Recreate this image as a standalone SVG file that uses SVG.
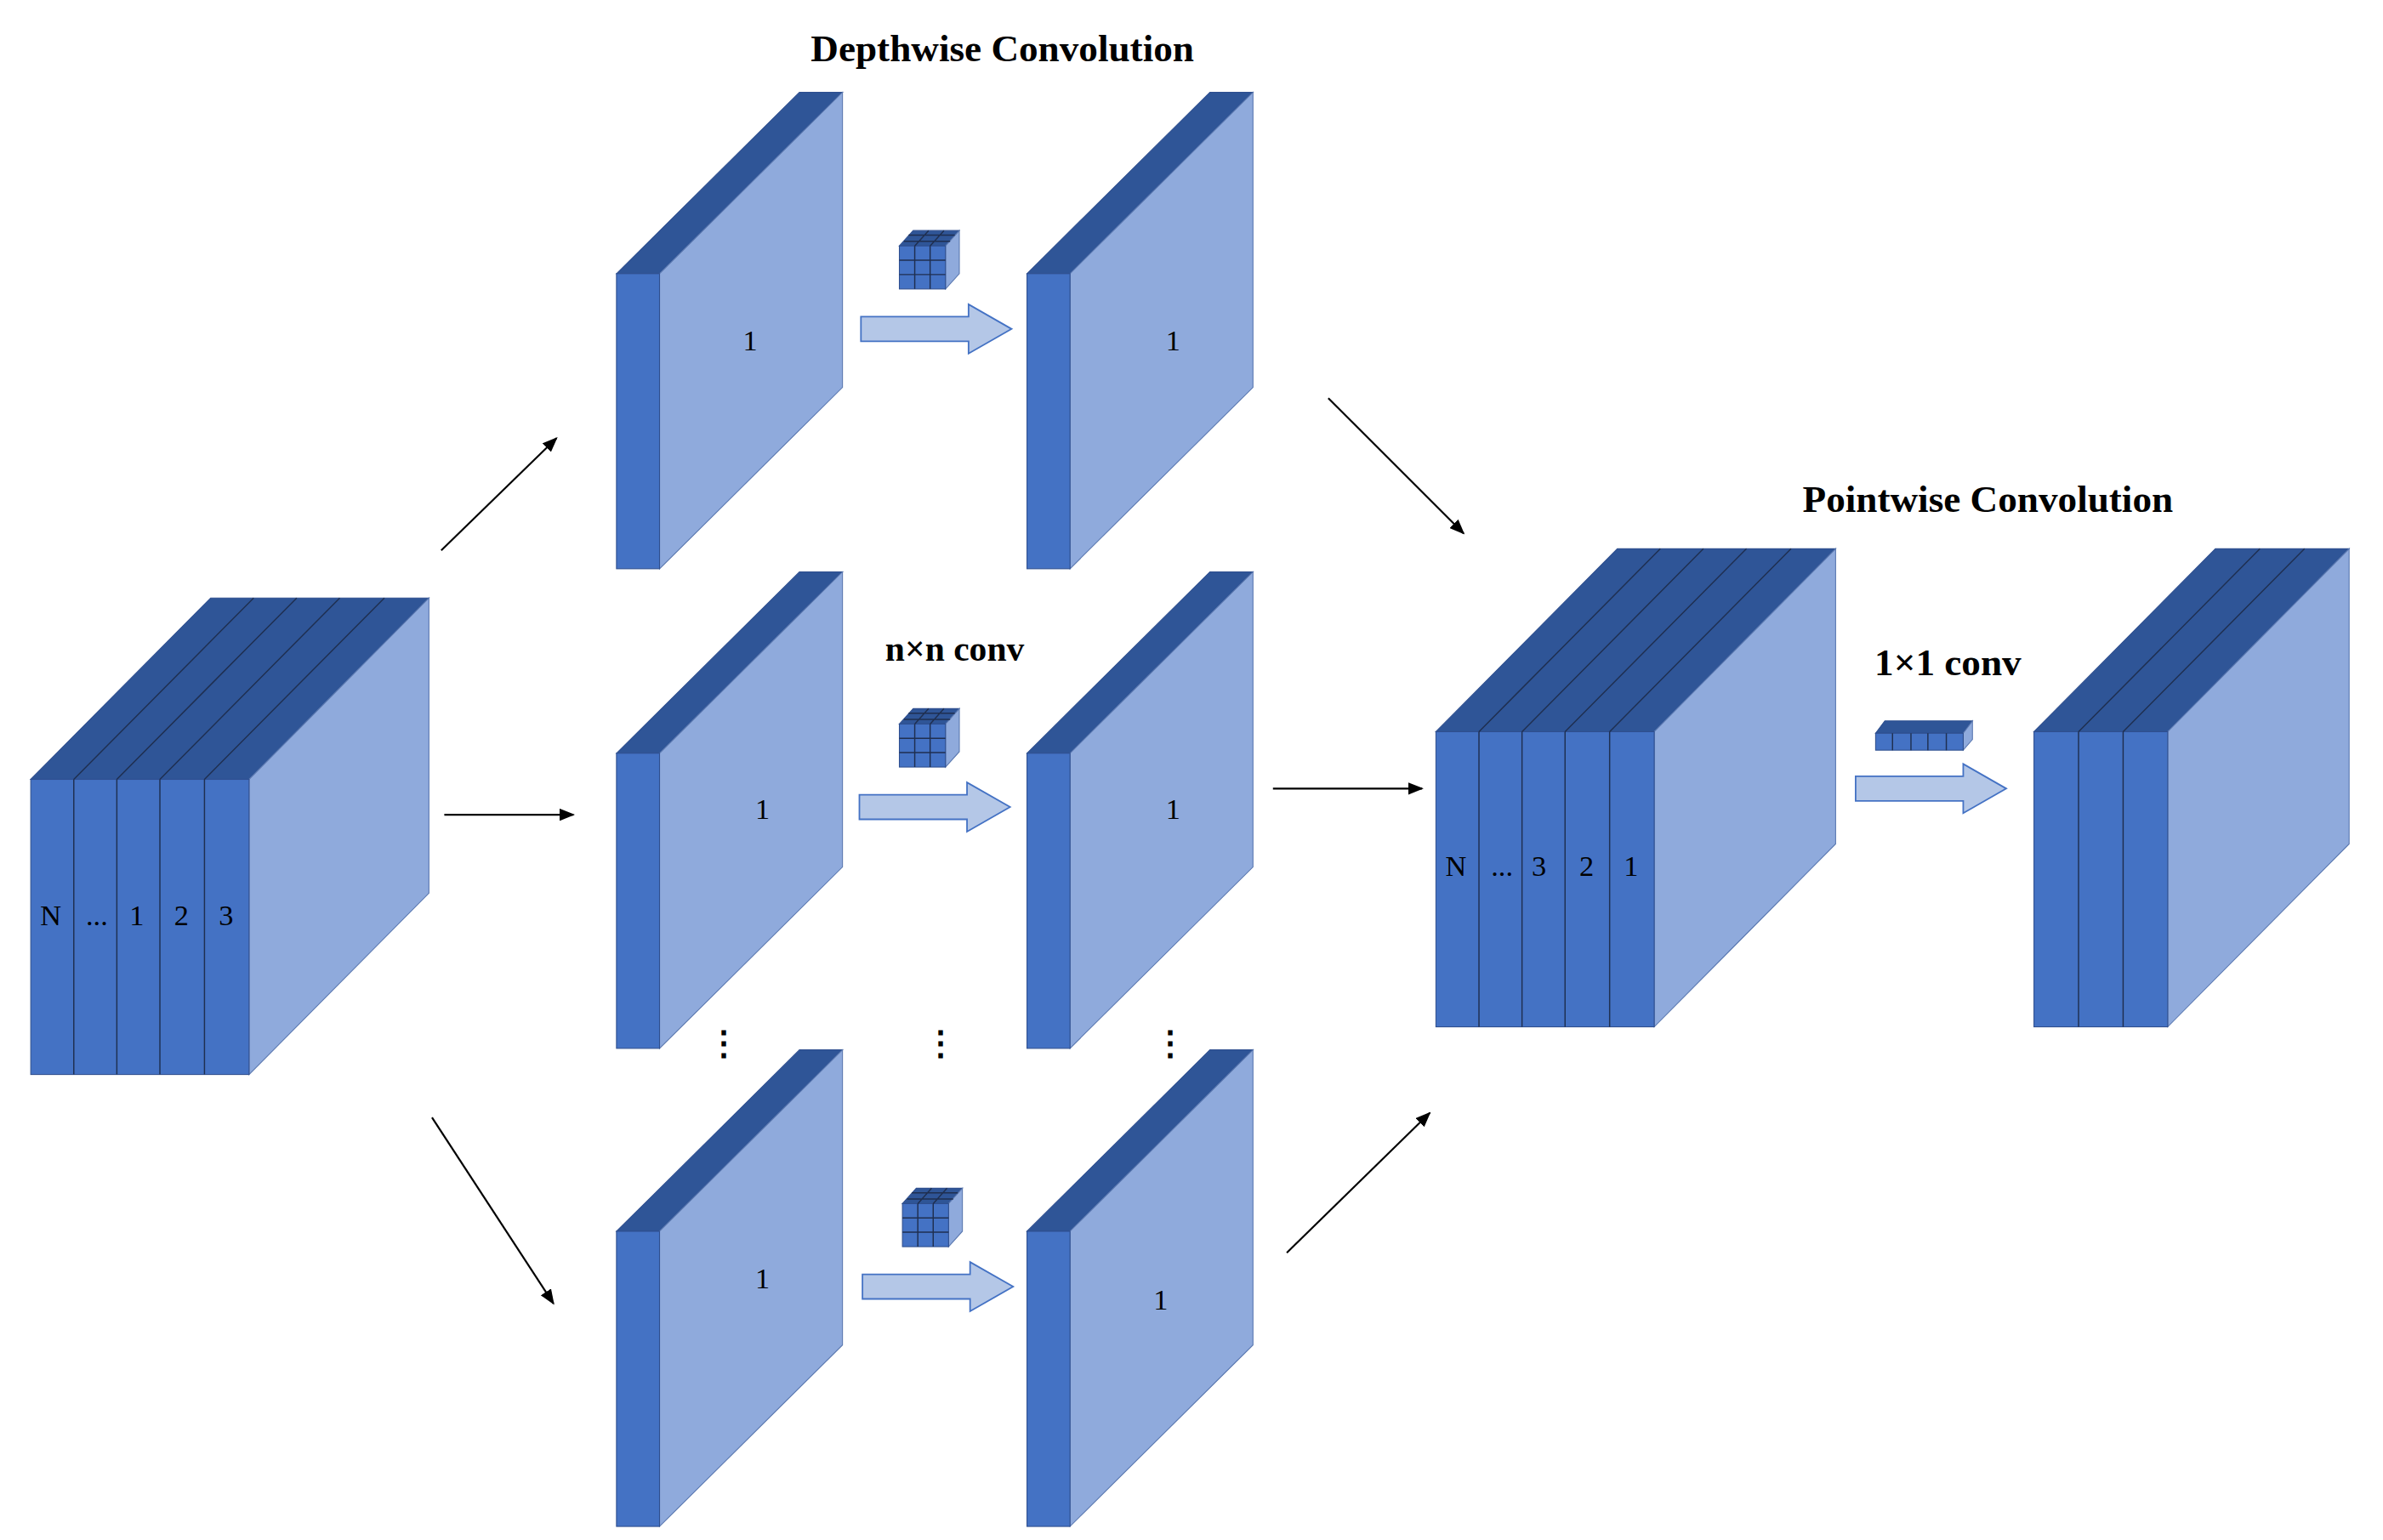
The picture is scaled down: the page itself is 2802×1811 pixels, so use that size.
<svg xmlns="http://www.w3.org/2000/svg" width="2802" height="1811" viewBox="0 0 2802 1811">
<style>
.f{fill:#4472C4;stroke:#2F4F8F;stroke-width:0.6}
.t{fill:#2F5597;stroke:#2F4F8F;stroke-width:0.6}
.r{fill:#8FAADC;stroke:#5A78B0;stroke-width:0.6}
.ln{stroke:#1F2F50;stroke-width:0.8;fill:none}
.lab{font-family:"Liberation Serif",serif;font-size:19px;fill:#000;text-anchor:middle}
.ttl{font-family:"Liberation Serif",serif;font-size:25px;font-weight:bold;fill:#000;text-anchor:middle}
.ha{fill:#B4C7E7;stroke:#4472C4;stroke-width:1}
.c{stroke:#000;stroke-width:1.2;fill:none;marker-end:url(#ah)}
</style>
<defs>
<marker id="ah" markerWidth="10" markerHeight="8" refX="9" refY="4" orient="auto" markerUnits="userSpaceOnUse"><path d="M0,0 L10,4 L0,8 Z" fill="#000"/></marker>
<g id="slab"><polygon class="t" points="0,0 119,-118 147,-118 28,0"/><polygon class="r" points="28,0 147,-118 147,74 28,192"/><rect class="f" x="0" y="0" width="28" height="192"/></g>
<g id="k3"><polygon class="t" points="0,0 9,-10 39,-10 30,0"/><polygon class="r" points="30,0 39,-10 39,18 30,28"/><rect class="f" x="0" y="0" width="30" height="28"/><path class="ln" d="M10,0V28M20,0V28M0,9.3H30M0,18.6H30M3,-3H33M6,-7H36M10,0l9,-10M20,0l9,-10"/></g>
<polygon id="harr" class="ha" points="0,-8 70,-8 70,-16 98,0 70,16 70,8 0,8"/>
</defs>
<rect width="2802" height="1811" fill="#fff"/>
<g transform="scale(1.8077)">
<g id="input">
<polygon class="t" points="20,507 137,389 279,389 162,507"/>
<polygon class="r" points="162,507 279,389 279,581 162,699"/>
<rect class="f" x="20" y="507" width="142" height="192"/>
<path class="ln" d="M48,507V699M76,507V699M104,507V699M133,507V699M48,507L165,389M76,507L193,389M104,507L221,389M133,507L250,389"/>
<text class="lab" x="33" y="602">N</text><text class="lab" x="63" y="602">...</text><text class="lab" x="89" y="602">1</text><text class="lab" x="118" y="602">2</text><text class="lab" x="147" y="602">3</text>
</g>
<text class="ttl" x="652" y="40">Depthwise Convolution</text>
<g id="dw1a"><use href="#slab" x="401" y="178"/><text class="lab" x="488" y="228">1</text></g>
<g id="dw1b"><use href="#slab" x="668" y="178"/><text class="lab" x="763" y="228">1</text></g>
<g id="dw2a"><use href="#slab" x="401" y="490"/><text class="lab" x="496" y="533">1</text></g>
<g id="dw2b"><use href="#slab" x="668" y="490"/><text class="lab" x="763" y="533">1</text></g>
<g id="dw3a"><use href="#slab" x="401" y="801"/><text class="lab" x="496" y="838">1</text></g>
<g id="dw3b"><use href="#slab" x="668" y="801"/><text class="lab" x="755" y="852">1</text></g>
<g id="kernels"><use href="#k3" x="585" y="160"/><use href="#k3" x="585" y="471"/><use href="#k3" x="587" y="783"/></g>
<g id="convarrows"><use href="#harr" x="560" y="214"/><use href="#harr" x="559" y="525"/><use href="#harr" x="561" y="837"/></g>
<text class="ttl" x="621" y="430" style="font-size:23px">n×n conv</text>
<g id="dots" font-family="Liberation Serif,serif" font-size="22" font-weight="bold" text-anchor="middle"><text x="471" y="686">⋮</text><text x="612" y="686">⋮</text><text x="761" y="686">⋮</text></g>
<g id="connectors">
<line class="c" x1="287" y1="358" x2="362" y2="285"/>
<line class="c" x1="289" y1="530" x2="373" y2="530"/>
<line class="c" x1="281" y1="727" x2="360" y2="848"/>
<line class="c" x1="864" y1="259" x2="952" y2="347"/>
<line class="c" x1="828" y1="513" x2="925" y2="513"/>
<line class="c" x1="837" y1="815" x2="930" y2="724"/>
</g>
<text class="ttl" x="1293" y="333">Pointwise Convolution</text>
<g id="pwin">
<polygon class="t" points="934,476 1052,357 1194,357 1076,476"/>
<polygon class="r" points="1076,476 1194,357 1194,549 1076,668"/>
<rect class="f" x="934" y="476" width="142" height="192"/>
<path class="ln" d="M962,476V668M990,476V668M1018,476V668M1047,476V668M962,476L1080,357M990,476L1108,357M1018,476L1136,357M1047,476L1165,357"/>
<text class="lab" x="947" y="570">N</text><text class="lab" x="977" y="570">...</text><text class="lab" x="1001" y="570">3</text><text class="lab" x="1032" y="570">2</text><text class="lab" x="1061" y="570">1</text>
</g>
<text class="ttl" x="1267" y="439">1×1 conv</text>
<g id="k1">
<polygon class="t" points="1220,477 1226,469 1283,469 1277,477"/>
<polygon class="r" points="1277,477 1283,469 1283,481 1277,488"/>
<rect class="f" x="1220" y="477" width="57" height="11"/>
<path class="ln" d="M1231,477V488M1243,477V488M1254,477V488M1266,477V488"/>
</g>
<use href="#harr" x="1207" y="513"/>
<g id="pwout">
<polygon class="t" points="1323,476 1441,357 1528,357 1410,476"/>
<polygon class="r" points="1410,476 1528,357 1528,549 1410,668"/>
<rect class="f" x="1323" y="476" width="87" height="192"/>
<path class="ln" d="M1352,476V668M1381,476V668M1352,476L1470,357M1381,476L1499,357"/>
</g>
</g>
</svg>
